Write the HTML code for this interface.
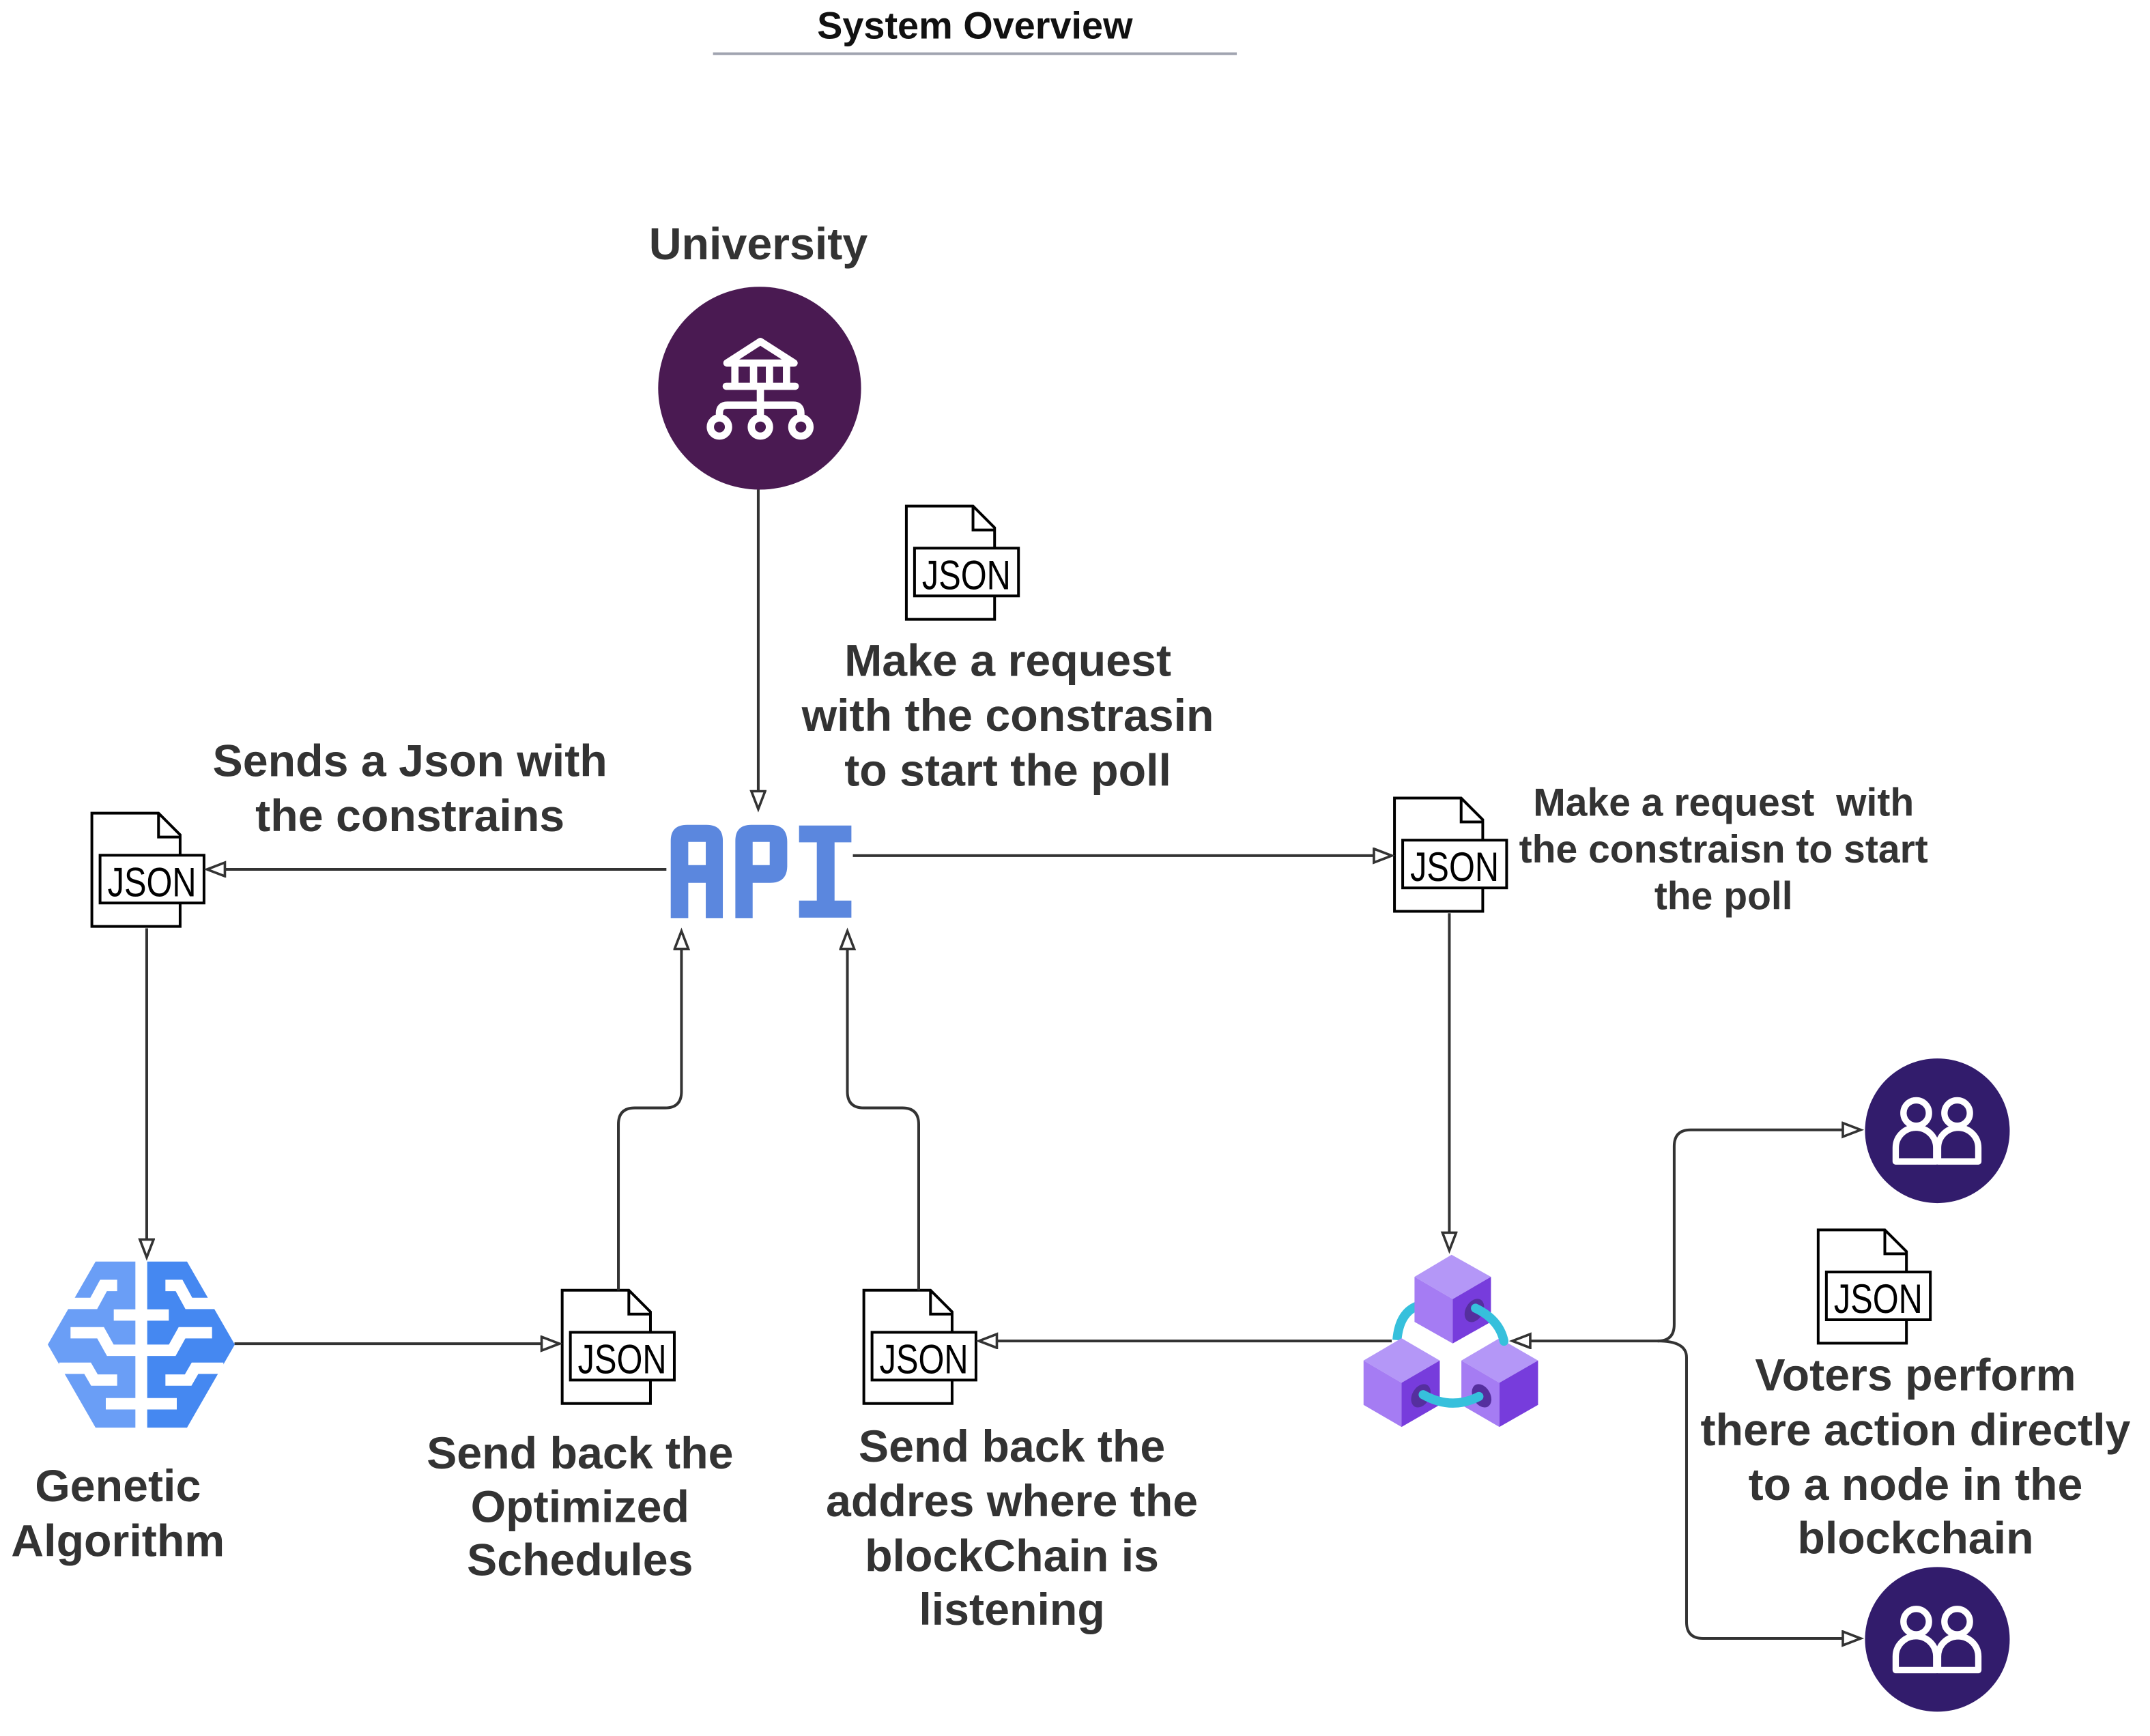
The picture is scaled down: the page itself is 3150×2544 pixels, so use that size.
<!DOCTYPE html>
<html><head><meta charset="utf-8"><style>
html,body{margin:0;padding:0;background:#fff;}
svg{display:block;}
text{font-family:"Liberation Sans",sans-serif;font-weight:bold;fill:#333;text-anchor:middle;}
.j{font-weight:normal;fill:#000;}
</style></head><body>
<svg width="3150" height="2544" viewBox="0 0 1568 1266" xmlns="http://www.w3.org/2000/svg">
<defs>
<marker id="ar" markerUnits="userSpaceOnUse" markerWidth="20" markerHeight="16" refX="14" refY="6" orient="auto">
<path d="M1,1 L14,6 L1,11 Z" fill="#fff" stroke="#333" stroke-width="1.8"/>
</marker>
</defs>
<rect width="1568" height="1266" fill="#fff"/>

<text x="711" y="28" font-size="27.8" style="fill:#111">System Overview</text>
<line x1="520" y1="39" x2="902" y2="39" stroke="#a0a4b0" stroke-width="2"/>

<text x="553" y="189" font-size="33">University</text>
<circle cx="554" cy="283" r="74" fill="#4a1a52"/>
<g transform="scale(0.4978) translate(900,350) scale(0.33333)" stroke="#fff" fill="none" stroke-width="32" stroke-linejoin="round" stroke-linecap="round">
<path d="M495,545 L642,450 L790,545 Z"/>
<path d="M530,565 V630 M612,565 V630 M682,565 V630 M757,565 V630"/>
<path d="M492,647 H795"/>
<path d="M642,660 V790 M462,790 V765 Q462,730 497,730 H787 Q820,730 820,765 V790"/>
<circle cx="462" cy="826" r="40" fill="#4a1a52"/>
<circle cx="642" cy="826" r="40" fill="#4a1a52"/>
<circle cx="820" cy="826" r="40" fill="#4a1a52"/>
</g>

<g transform="scale(0.4978) translate(960,1180) scale(0.33333)" fill="#5b87de" fill-rule="evenodd">
<path d="M68,495 V155 Q68,85 140,85 H225 Q297,85 297,155 V495 H222 V340 H145 V495 Z M145,160 H222 V262 H145 Z"/>
<path d="M352,495 V155 Q352,85 422,85 H505 Q580,85 580,160 V265 Q580,340 505,340 H428 V495 Z M428,160 H503 V262 H428 Z"/>
<path d="M632,88 H862 V162 H788 V418 H862 V493 H632 V418 H710 V162 H632 Z"/>
</g>

<g transform="translate(67,593) scale(0.1659)">
<path d="M0,0 H293 L388,95 V498 H0 Z" fill="#fff" stroke="#000" stroke-width="12"/>
<path d="M293,0 V105 H388" fill="none" stroke="#000" stroke-width="12"/>
<rect x="36" y="185" width="457" height="210" fill="#fff" stroke="#000" stroke-width="12"/>
<text class="j" x="264" y="365" font-size="180" textLength="390" lengthAdjust="spacingAndGlyphs">JSON</text>
</g>
<g transform="translate(661,369) scale(0.1659)">
<path d="M0,0 H293 L388,95 V498 H0 Z" fill="#fff" stroke="#000" stroke-width="12"/>
<path d="M293,0 V105 H388" fill="none" stroke="#000" stroke-width="12"/>
<rect x="36" y="185" width="457" height="210" fill="#fff" stroke="#000" stroke-width="12"/>
<text class="j" x="264" y="365" font-size="180" textLength="390" lengthAdjust="spacingAndGlyphs">JSON</text>
</g>
<g transform="translate(1017,582) scale(0.1659)">
<path d="M0,0 H293 L388,95 V498 H0 Z" fill="#fff" stroke="#000" stroke-width="12"/>
<path d="M293,0 V105 H388" fill="none" stroke="#000" stroke-width="12"/>
<rect x="36" y="185" width="457" height="210" fill="#fff" stroke="#000" stroke-width="12"/>
<text class="j" x="264" y="365" font-size="180" textLength="390" lengthAdjust="spacingAndGlyphs">JSON</text>
</g>
<g transform="translate(410,941) scale(0.1659)">
<path d="M0,0 H293 L388,95 V498 H0 Z" fill="#fff" stroke="#000" stroke-width="12"/>
<path d="M293,0 V105 H388" fill="none" stroke="#000" stroke-width="12"/>
<rect x="36" y="185" width="457" height="210" fill="#fff" stroke="#000" stroke-width="12"/>
<text class="j" x="264" y="365" font-size="180" textLength="390" lengthAdjust="spacingAndGlyphs">JSON</text>
</g>
<g transform="translate(630,941) scale(0.1659)">
<path d="M0,0 H293 L388,95 V498 H0 Z" fill="#fff" stroke="#000" stroke-width="12"/>
<path d="M293,0 V105 H388" fill="none" stroke="#000" stroke-width="12"/>
<rect x="36" y="185" width="457" height="210" fill="#fff" stroke="#000" stroke-width="12"/>
<text class="j" x="264" y="365" font-size="180" textLength="390" lengthAdjust="spacingAndGlyphs">JSON</text>
</g>
<g transform="translate(1326,897) scale(0.1659)">
<path d="M0,0 H293 L388,95 V498 H0 Z" fill="#fff" stroke="#000" stroke-width="12"/>
<path d="M293,0 V105 H388" fill="none" stroke="#000" stroke-width="12"/>
<rect x="36" y="185" width="457" height="210" fill="#fff" stroke="#000" stroke-width="12"/>
<text class="j" x="264" y="365" font-size="180" textLength="390" lengthAdjust="spacingAndGlyphs">JSON</text>
</g>

<g fill="none" stroke="#333" stroke-width="2">
<path d="M553,357 V590" marker-end="url(#ar)"/>
<path d="M486,634 H151" marker-end="url(#ar)"/>
<path d="M107,677 V917" marker-end="url(#ar)"/>
<path d="M171,980 H408" marker-end="url(#ar)"/>
<path d="M451,941 V820 Q451,808 463,808 H485 Q497,808 497,796 V679" marker-end="url(#ar)"/>
<path d="M670,941 V820 Q670,808 658,808 H630 Q618,808 618,796 V679" marker-end="url(#ar)"/>
<path d="M622,624 H1015" marker-end="url(#ar)"/>
<path d="M1057,666 V912" marker-end="url(#ar)"/>
<path d="M1015,978 H714" marker-end="url(#ar)"/>
<path d="M1210,978 H1103" marker-end="url(#ar)"/>
<path d="M1209,978 Q1221,978 1221,966 V836 Q1221,824 1233,824 H1357" marker-end="url(#ar)"/>
<path d="M1209,978 Q1230,978 1230,990 V1183 Q1230,1195 1242,1195 H1357" marker-end="url(#ar)"/>
</g>

<g transform="scale(0.4978) translate(60,1830) scale(0.33333)">
<path d="M240,55 H415 V785 H240 L30,420 Z" fill="#6a9ef6"/>
<path d="M642,55 H467 V785 H642 L852,420 Z" fill="#4588f1"/>
<g fill="none" stroke="#fff" stroke-width="50" stroke-linejoin="miter">
<path d="M90,239 H232 L275,160 H335"/>
<path d="M130,368 H262 L305,445 H440"/>
<path d="M320,290 H440"/>
<path d="M80,524 H205 L235,576 H335"/>
<path d="M285,680 H440"/>
<path d="M792,239 H650 L607,160 H547"/>
<path d="M752,368 H620 L577,445 H442"/>
<path d="M562,290 H442"/>
<path d="M802,524 H677 L647,576 H547"/>
<path d="M597,680 H442"/>
</g>
</g>

<g transform="scale(0.4978) translate(1950,1750) scale(0.33333)">
<path d="M290,640 Q300,520 380,490" fill="none" stroke="#36c0dc" stroke-width="40"/>
<polygon points="530,265 703,362 535,460 367,362" fill="#b497f7"/>
<polygon points="367,362 535,460 535,655 367,560" fill="#a57cf3"/>
<polygon points="535,460 703,362 703,560 535,655" fill="#773cdc"/>
<polygon points="143,730 310,632 478,730 310,828" fill="#b497f7"/>
<polygon points="143,730 310,828 310,1022 143,925" fill="#a57cf3"/>
<polygon points="310,828 478,730 478,925 310,1022" fill="#773cdc"/>
<polygon points="573,730 740,632 910,730 740,828" fill="#b497f7"/>
<polygon points="573,730 740,828 740,1022 573,925" fill="#a57cf3"/>
<polygon points="740,828 910,730 910,925 740,1022" fill="#773cdc"/>
<ellipse cx="630" cy="510" rx="38" ry="55" transform="rotate(30 630 510)" fill="#552f9e"/>
<ellipse cx="395" cy="885" rx="38" ry="55" transform="rotate(30 395 885)" fill="#552f9e"/>
<ellipse cx="662" cy="885" rx="38" ry="55" transform="rotate(-30 662 885)" fill="#552f9e"/>
<path d="M635,500 Q740,550 760,645" fill="none" stroke="#36c0dc" stroke-width="40" stroke-linecap="round"/>
<path d="M405,880 Q530,950 650,888" fill="none" stroke="#36c0dc" stroke-width="40" stroke-linecap="round"/>
</g>

<g transform="scale(0.4978) translate(2720,1540) scale(0.33333)">
<circle cx="355" cy="350" r="318" fill="#321c6c"/>
<g fill="none" stroke="#fff" stroke-width="28" stroke-linejoin="round">
<circle cx="262" cy="272" r="56"/>
<circle cx="442" cy="272" r="56"/>
<path d="M172,485 V425 A88,88 0 0 1 350,425 V485 Z"/>
<path d="M358,485 V425 A88,88 0 0 1 535,425 V485 Z"/>
</g>
</g>
<g transform="translate(0,371) scale(0.4978) translate(2720,1540) scale(0.33333)">
<circle cx="355" cy="350" r="318" fill="#321c6c"/>
<g fill="none" stroke="#fff" stroke-width="28" stroke-linejoin="round">
<circle cx="262" cy="272" r="56"/>
<circle cx="442" cy="272" r="56"/>
<path d="M172,485 V425 A88,88 0 0 1 350,425 V485 Z"/>
<path d="M358,485 V425 A88,88 0 0 1 535,425 V485 Z"/>
</g>
</g>

<g font-size="33">
<text x="735" y="493">Make a request</text>
<text x="735" y="533">with the constrasin</text>
<text x="735" y="573">to start the poll</text>
<text x="299" y="566">Sends a Json with</text>
<text x="299" y="606">the constrains</text>
<text x="86" y="1095">Genetic</text>
<text x="86" y="1135">Algorithm</text>
<text x="423" y="1071">Send back the</text>
<text x="423" y="1110">Optimized</text>
<text x="423" y="1149">Schedules</text>
<text x="738" y="1066">Send back the</text>
<text x="738" y="1106">addres where the</text>
<text x="738" y="1146">blockChain is</text>
<text x="738" y="1185">listening</text>
<text x="1397" y="1014">Voters perform</text>
<text x="1397" y="1054">there action directly</text>
<text x="1397" y="1094">to a node in the</text>
<text x="1397" y="1133">blockchain</text>
</g>
<g font-size="28.4">
<text x="1257" y="595" xml:space="preserve">Make a request  with</text>
<text x="1257" y="629">the constraisn to start</text>
<text x="1257" y="663">the poll</text>
</g>
</svg>
</body></html>
